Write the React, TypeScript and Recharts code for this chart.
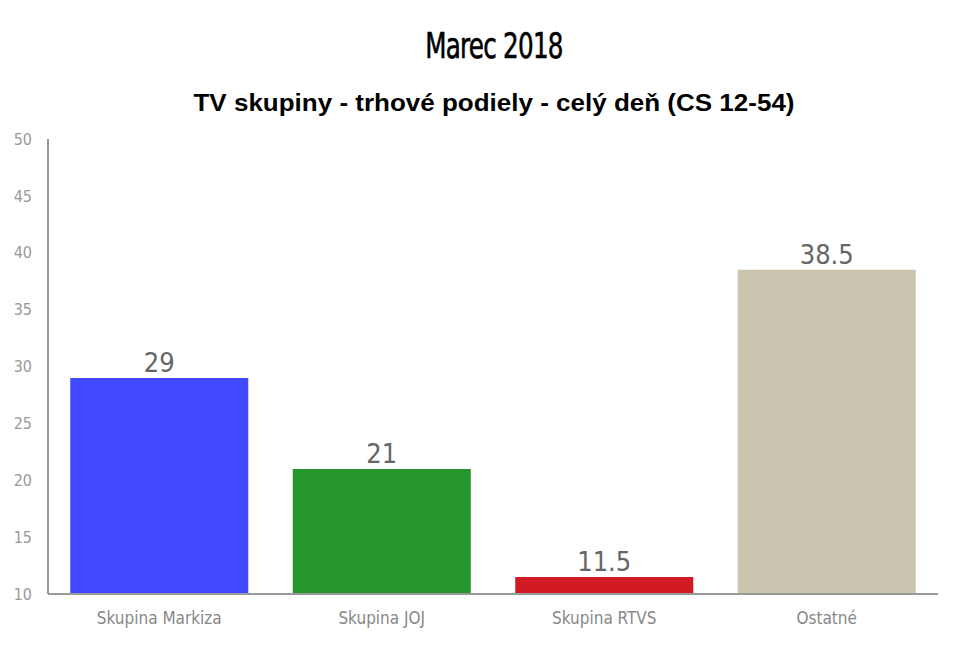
import React from "react";
import { BarChart, Bar, XAxis, YAxis, Cell, LabelList } from "recharts";

const groups = ["Skupina Markiza", "Skupina JOJ", "Skupina RTVS", "Ostatné"];
const shares = [29, 21, 11.5, 38.5];
const barColors = ["#4049FF", "#26952B", "#D11A24", "#C8C4AE"];
const yTicks = [10, 15, 20, 25, 30, 35, 40, 45, 50];

const App: React.FC = () => {
  const chartData = groups.map((name, i) => ({ name, share: shares[i] }));

  return (
    <div style={{ position: "relative", width: 943, height: 643, background: "#fff" }}>
      <div
        style={{
          position: "absolute",
          top: 17,
          left: 0,
          width: 972,
          textAlign: "center",
          fontFamily: "'DejaVu Sans Condensed', 'DejaVu Sans', sans-serif",
          fontSize: 36,
          fontWeight: "normal",
          color: "#000",
          WebkitTextStroke: "0.6px #000",
          letterSpacing: -1,
          transform: "scaleX(0.76)",
        }}
      >
        Marec 2018
      </div>
      <div
        style={{
          position: "absolute",
          top: 80,
          left: 0,
          width: 972,
          textAlign: "center",
          fontFamily: "'Liberation Sans', Arial, sans-serif",
          fontWeight: "bold",
          fontSize: 26,
          lineHeight: "30px",
          color: "#000",
          transform: "scaleY(0.92)",
        }}
      >
        TV skupiny - trhové podiely - celý deň (CS 12-54)
      </div>
      <BarChart
        width={943}
        height={643}
        data={chartData}
        margin={{ top: 131, right: 13, left: 0, bottom: 27 }}
        barCategoryGap="10%"
      >
        <XAxis
          dataKey="name"
          axisLine={{ stroke: "#999", strokeWidth: 2 }}
          tickLine={false}
          tickMargin={12}
          height={30}
          tick={{ fill: "#888", fontSize: 17, fontFamily: "'DejaVu Sans Condensed', sans-serif" }}
        />
        <YAxis
          domain={[10, 50]}
          ticks={yTicks}
          width={40}
          axisLine={{ stroke: "#999", strokeWidth: 2 }}
          tickLine={false}
          tickSize={0}
          tickMargin={16}
          allowDataOverflow
          tick={{ fill: "#999", fontSize: 16, fontFamily: "'DejaVu Sans Condensed', sans-serif" }}
        />
        <Bar dataKey="share" isAnimationActive={false}>
          {chartData.map((d, i) => (
            <Cell key={d.name} fill={barColors[i]} />
          ))}
          <LabelList
            dataKey="share"
            position="top"
            offset={6}
            fill="#666"
            fontSize={27}
            fontFamily="'DejaVu Sans Condensed', sans-serif"
            fontWeight={300}
          />
        </Bar>
      </BarChart>
    </div>
  );
};

export default App;
